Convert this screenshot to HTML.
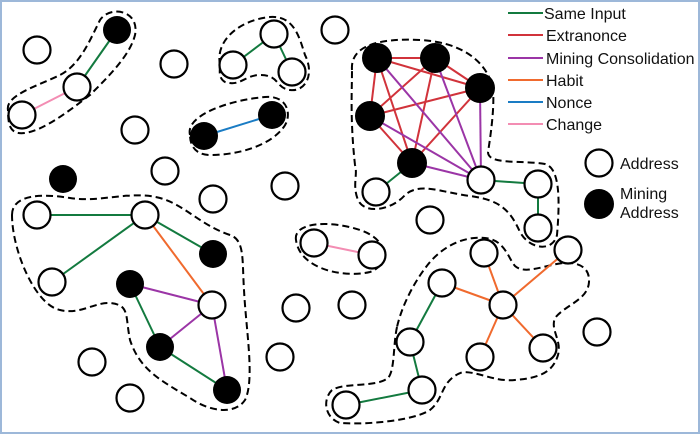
<!DOCTYPE html>
<html><head><meta charset="utf-8"><style>
html,body{margin:0;padding:0;background:#fff}
svg{display:block}
text{font-family:"Liberation Sans",sans-serif;font-size:16px;fill:#111}
</style></head><body>
<svg width="700" height="434" viewBox="0 0 700 434" xmlns="http://www.w3.org/2000/svg">
<rect x="1" y="1" width="698" height="432" fill="#fff" stroke="#9db8d9" stroke-width="2"/>
<g fill="none" stroke="#000" stroke-width="2" stroke-dasharray="7,4">
<path d="M8,110 C5,95 40,85 60,75 C80,65 90,40 100,20 C110,5 140,10 135,35 C130,55 110,75 90,95 C70,110 45,130 25,133 C10,135 8,125 8,110Z"/>
<path d="M220,65 C215,40 240,20 270,17 C295,15 300,40 305,55 C315,75 305,92 290,90 C275,88 280,75 260,75 C245,75 240,87 225,82 C218,78 220,70 220,65Z"/>
<path d="M190,135 C185,115 230,100 265,97 C290,95 292,118 283,128 C270,145 240,155 210,155 C195,155 190,145 190,135Z"/>
<path d="M352,70 C350,45 380,38 420,40 C460,42 485,60 492,85 C496,100 490,140 488,152 C488,165 520,160 545,164 C560,168 560,200 557,235 C553,252 530,250 520,232 C510,210 500,200 470,196 C440,192 420,182 405,195 C392,210 365,215 358,200 C352,185 358,175 355,165 C350,120 352,90 352,70Z"/>
<path d="M12,215 C12,195 40,193 70,198 C100,203 130,190 160,198 C185,205 200,225 230,235 C245,240 242,260 244,290 C246,330 255,380 245,400 C235,415 210,412 190,398 C160,380 140,370 130,340 C125,315 130,305 110,303 C95,302 80,315 60,310 C35,305 12,250 12,215Z"/>
<path d="M296,240 C293,222 330,220 360,230 C390,240 390,265 370,272 C345,278 300,270 296,240Z"/>
<path d="M397,327 C393,345 395,370 388,378 C375,388 345,382 332,390 C322,400 325,418 340,423 C370,425 415,420 430,410 C445,398 440,380 463,372 C480,372 495,382 515,380 C540,378 553,372 558,355 C562,340 550,330 555,318 C565,305 588,300 589,282 C590,265 575,262 563,263 C545,265 525,275 515,266 C508,258 505,240 485,238 C465,236 445,245 430,262 C415,280 402,305 397,327Z"/>
</g>
<g stroke-width="2">
<line x1="22" y1="115" x2="77" y2="87" stroke="#f38db3"/>
<line x1="77" y1="87" x2="117" y2="30" stroke="#137a3f"/>
<line x1="233" y1="65" x2="274" y2="34" stroke="#137a3f"/>
<line x1="274" y1="34" x2="292" y2="72" stroke="#137a3f"/>
<line x1="204" y1="136" x2="272" y2="115" stroke="#1a7cc4"/>
<g stroke="#d1333b">
<line x1="377" y1="58" x2="435" y2="58"/><line x1="377" y1="58" x2="480" y2="88"/><line x1="377" y1="58" x2="370" y2="116"/><line x1="377" y1="58" x2="412" y2="163"/>
<line x1="435" y1="58" x2="480" y2="88"/><line x1="435" y1="58" x2="370" y2="116"/><line x1="435" y1="58" x2="412" y2="163"/>
<line x1="480" y1="88" x2="370" y2="116"/><line x1="480" y1="88" x2="412" y2="163"/>
<line x1="370" y1="116" x2="412" y2="163"/>
</g>
<g stroke="#9b35a6">
<line x1="377" y1="58" x2="481" y2="180"/><line x1="435" y1="58" x2="481" y2="180"/><line x1="480" y1="88" x2="481" y2="180"/><line x1="370" y1="116" x2="481" y2="180"/><line x1="412" y1="163" x2="481" y2="180"/>
<line x1="130" y1="284" x2="212" y2="305"/><line x1="212" y1="305" x2="160" y2="347"/><line x1="212" y1="305" x2="227" y2="390"/>
</g>
<g stroke="#137a3f">
<line x1="412" y1="163" x2="376" y2="192"/><line x1="481" y1="180" x2="538" y2="184"/><line x1="538" y1="184" x2="538" y2="228"/>
<line x1="37" y1="215" x2="145" y2="215"/><line x1="145" y1="215" x2="52" y2="282"/><line x1="145" y1="215" x2="213" y2="254"/>
<line x1="130" y1="284" x2="160" y2="347"/><line x1="160" y1="347" x2="227" y2="390"/>
<line x1="442" y1="283" x2="410" y2="342"/><line x1="410" y1="342" x2="422" y2="390"/><line x1="422" y1="390" x2="346" y2="405"/>
</g>
<line x1="314" y1="243" x2="372" y2="255" stroke="#f38db3"/>
<g stroke="#f06a2e">
<line x1="145" y1="215" x2="212" y2="305"/>
<line x1="503" y1="305" x2="484" y2="253"/><line x1="503" y1="305" x2="442" y2="283"/><line x1="503" y1="305" x2="568" y2="250"/><line x1="503" y1="305" x2="480" y2="357"/><line x1="503" y1="305" x2="543" y2="348"/>
</g>
</g>
<g stroke="#000" stroke-width="2.2" fill="#fff">
<circle cx="37" cy="50" r="13.5"/><circle cx="77" cy="87" r="13.5"/><circle cx="22" cy="115" r="13.5"/>
<circle cx="174" cy="64" r="13.5"/><circle cx="135" cy="130" r="13.5"/><circle cx="165" cy="171" r="13.5"/>
<circle cx="213" cy="199" r="13.5"/><circle cx="285" cy="186" r="13.5"/><circle cx="335" cy="30" r="13.5"/>
<circle cx="274" cy="34" r="13.5"/><circle cx="233" cy="65" r="13.5"/><circle cx="292" cy="72" r="13.5"/>
<circle cx="481" cy="180" r="13.5"/><circle cx="376" cy="192" r="13.5"/><circle cx="538" cy="184" r="13.5"/><circle cx="538" cy="228" r="13.5"/>
<circle cx="430" cy="220" r="13.5"/><circle cx="599" cy="163" r="13.5"/>
<circle cx="37" cy="215" r="13.5"/><circle cx="145" cy="215" r="13.5"/><circle cx="52" cy="282" r="13.5"/><circle cx="212" cy="305" r="13.5"/>
<circle cx="92" cy="362" r="13.5"/><circle cx="130" cy="398" r="13.5"/><circle cx="296" cy="308" r="13.5"/><circle cx="280" cy="357" r="13.5"/>
<circle cx="314" cy="243" r="13.5"/><circle cx="372" cy="255" r="13.5"/><circle cx="352" cy="305" r="13.5"/>
<circle cx="484" cy="253" r="13.5"/><circle cx="442" cy="283" r="13.5"/><circle cx="503" cy="305" r="13.5"/><circle cx="568" cy="250" r="13.5"/>
<circle cx="410" cy="342" r="13.5"/><circle cx="480" cy="357" r="13.5"/><circle cx="543" cy="348" r="13.5"/><circle cx="422" cy="390" r="13.5"/>
<circle cx="346" cy="405" r="13.5"/><circle cx="597" cy="332" r="13.5"/>
</g>
<g fill="#000">
<circle cx="117" cy="30" r="14"/><circle cx="204" cy="136" r="14"/><circle cx="272" cy="115" r="14"/><circle cx="63" cy="179" r="14"/>
<circle cx="377" cy="58" r="15"/><circle cx="435" cy="58" r="15"/><circle cx="480" cy="88" r="15"/><circle cx="370" cy="116" r="15"/><circle cx="412" cy="163" r="15"/>
<circle cx="213" cy="254" r="14"/><circle cx="130" cy="284" r="14"/><circle cx="160" cy="347" r="14"/><circle cx="227" cy="390" r="14"/>
<circle cx="599" cy="204" r="15"/>
</g>
<g stroke-width="2">
<line x1="508" y1="13" x2="543" y2="13" stroke="#137a3f"/>
<line x1="508" y1="35" x2="543" y2="35" stroke="#d1333b"/>
<line x1="508" y1="58" x2="543" y2="58" stroke="#9b35a6"/>
<line x1="508" y1="80" x2="543" y2="80" stroke="#f06a2e"/>
<line x1="508" y1="102" x2="543" y2="102" stroke="#1a7cc4"/>
<line x1="508" y1="124" x2="543" y2="124" stroke="#f38db3"/>
</g>
<text x="544" y="19">Same Input</text>
<text x="546" y="41">Extranonce</text>
<text x="546" y="64">Mining Consolidation</text>
<text x="546" y="86">Habit</text>
<text x="546" y="108">Nonce</text>
<text x="546" y="130">Change</text>
<text x="620" y="169">Address</text>
<text x="620" y="199">Mining</text>
<text x="620" y="218">Address</text>
</svg>
</body></html>
